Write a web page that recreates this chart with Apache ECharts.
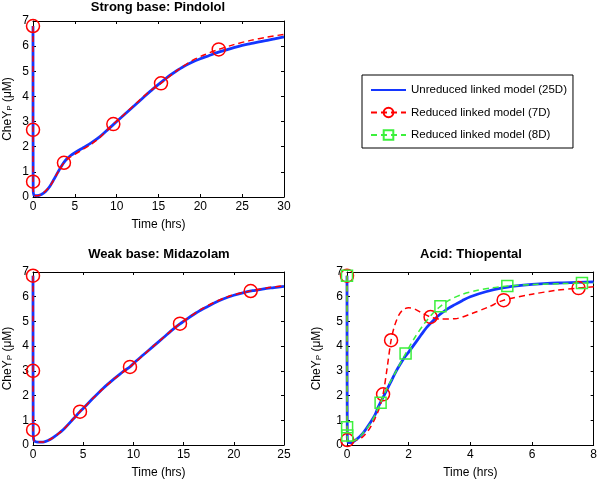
<!DOCTYPE html>
<html>
<head>
<meta charset="utf-8">
<script src="https://cdn.jsdelivr.net/npm/echarts@6/dist/echarts.min.js"></script>
<style>html,body{margin:0;padding:0;background:#fff}#c{width:600px;height:480px}</style>
</head>
<body>
<div id="c"></div>
<script>
// ---------- Data ----------
const titles = ['Strong base: Pindolol', 'Weak base: Midazolam', 'Acid: Thiopental'];
const seriesNames = ['Unreduced linked model (25D)', 'Reduced linked model (7D)', 'Reduced linked model (8D)'];
const xMax = [30, 25, 8];
const xInterval = [5, 5, 2];
const yTicks = [0, 1, 2, 3, 4, 5, 6, 7];

// Strong base: Pindolol
const pinTime25 = [0, 0.02, 0.1, 0.5, 1, 1.5, 2, 2.5, 3, 3.6, 4, 4.5, 5, 6, 7, 8, 9, 10, 11, 12, 13, 14, 15, 16, 17, 18, 19, 20, 21, 22, 23, 24, 25, 26, 27, 28, 29, 30];
const pinVal25  = [6.8, 0.3, 0.08, 0.05, 0.1, 0.22, 0.42, 0.7, 1.0, 1.33, 1.5, 1.65, 1.76, 1.96, 2.16, 2.4, 2.7, 3.0, 3.3, 3.6, 3.9, 4.2, 4.48, 4.75, 4.98, 5.19, 5.36, 5.5, 5.62, 5.74, 5.84, 5.94, 6.03, 6.1, 6.17, 6.23, 6.3, 6.37];
const pinTime7 = [0, 0.003, 0.01, 0.1, 0.5, 1, 2, 3, 3.7, 4.5, 5, 6, 7, 8, 9.6, 11, 12.5, 14, 15.3, 17, 19, 20.5, 22.2, 24, 26, 28, 30];
const pinVal7  = [6.8, 2.67, 0.61, 0.08, 0.05, 0.1, 0.42, 1.0, 1.36, 1.6, 1.7, 1.9, 2.11, 2.37, 2.9, 3.32, 3.78, 4.22, 4.52, 4.98, 5.42, 5.66, 5.87, 6.06, 6.23, 6.36, 6.47];
const pinMarks7 = [0, 1, 2, 8, 14, 18, 22];

// Weak base: Midazolam
const midTime25 = [0, 0.02, 0.1, 0.5, 1, 1.5, 2, 3, 4, 4.68, 5, 6, 7, 8, 9, 9.66, 10, 11, 12, 13, 14, 14.64, 15, 16, 17, 18, 19, 20, 21, 22, 23, 24, 25];
const midVal25  = [6.85, 0.5, 0.18, 0.12, 0.12, 0.18, 0.3, 0.62, 1.05, 1.35, 1.48, 1.9, 2.3, 2.65, 2.98, 3.16, 3.3, 3.65, 4.0, 4.35, 4.7, 4.9, 5.0, 5.28, 5.52, 5.74, 5.92, 6.06, 6.17, 6.25, 6.32, 6.37, 6.42];
const midTime7 = [0, 0.003, 0.01, 0.1, 0.5, 1, 2, 3, 4, 4.68, 6, 8, 9.66, 12, 14.64, 17, 19.5, 21.68, 23.5, 25];
const midVal7  = [6.85, 3.0, 0.61, 0.17, 0.12, 0.12, 0.3, 0.62, 1.05, 1.35, 1.9, 2.65, 3.16, 4.0, 4.91, 5.55, 6.02, 6.23, 6.37, 6.45];
const midMarks7 = [0, 1, 2, 9, 12, 14, 17];

// Acid: Thiopental
const thiTime25 = [0, 0.01, 0.05, 0.15, 0.3, 0.5, 0.7, 0.9, 1, 1.2, 1.4, 1.6, 1.8, 1.9, 2, 2.2, 2.4, 2.6, 2.8, 3, 3.25, 3.5, 3.75, 4, 4.5, 5, 5.5, 6, 6.5, 7, 7.5, 8];
const thiVal25  = [6.85, 0.3, 0.1, 0.1, 0.22, 0.45, 0.8, 1.2, 1.5, 2.0, 2.5, 3.0, 3.42, 3.6, 3.76, 4.1, 4.45, 4.78, 5.04, 5.27, 5.5, 5.68, 5.85, 6.0, 6.2, 6.35, 6.44, 6.5, 6.54, 6.56, 6.58, 6.6];
const thiTime7 = [0, 0.01, 0.05, 0.3, 0.5, 0.7, 0.9, 1.05, 1.17, 1.3, 1.43, 1.55, 1.7, 1.85, 2.0, 2.2, 2.45, 2.71, 3.0, 3.5, 4.05, 4.6, 5.08, 6, 6.8, 7.51, 8];
const thiVal7  = [6.85, 0.2, 0.12, 0.2, 0.32, 0.6, 1.05, 1.5, 2.05, 3.1, 4.24, 4.85, 5.3, 5.5, 5.55, 5.5, 5.33, 5.18, 5.1, 5.11, 5.32, 5.59, 5.86, 6.1, 6.26, 6.35, 6.4];
const thiMarks7 = [0, 1, 8, 10, 17, 22, 25];
const thiTime8 = [0, 0.003, 0.008, 0.05, 0.3, 0.5, 0.8, 1.09, 1.3, 1.6, 1.9, 2.2, 2.5, 2.8, 3.03, 3.3, 3.7, 4.2, 4.7, 5.2, 6, 7, 7.62, 8];
const thiVal8  = [6.85, 0.72, 0.38, 0.12, 0.22, 0.45, 0.95, 1.71, 2.3, 3.0, 3.7, 4.35, 4.9, 5.35, 5.61, 5.85, 6.08, 6.25, 6.36, 6.43, 6.49, 6.53, 6.55, 6.55];
const thiMarks8 = [0, 1, 2, 7, 10, 14, 19, 22];

// ---------- Styling ----------
const FONT = 'Liberation Sans, Arial, Helvetica, sans-serif';
const BLUE = '#1436ff', RED = '#ff0000', GREEN = '#3cf03c';
const CLEAR = 'rgba(255,255,255,0)';
const grids = [
  {left: 33, top: 21, width: 251, height: 176},
  {left: 33, top: 272, width: 251, height: 173},
  {left: 347, top: 272, width: 250, height: 173}
];
const titleCenters = [[158, 1], [159, 248], [471, 248]];
const yNameGaps = [19, 19, 24];

function pts(ts, vs, marks, sym) {
  return ts.map((t, i) => ({value: [t, vs[i]], symbol: (marks && marks.indexOf(i) >= 0) ? sym : 'none'}));
}

const xAxes = [], yAxes = [], title = [];
grids.forEach((g, i) => {
  title.push({
    text: titles[i], left: titleCenters[i][0], top: titleCenters[i][1], textAlign: 'center', padding: 0,
    textStyle: {fontFamily: FONT, fontSize: 13, fontWeight: 'bold', color: '#000'}
  });
  const common = {
    gridIndex: i, type: 'value', min: 0, splitLine: {show: false},
    axisLine: {show: true, onZero: false, lineStyle: {color: '#000', width: 1}},
    axisTick: {show: true, inside: true, length: 3, lineStyle: {color: '#000'}}
  };
  xAxes.push(Object.assign({}, common, {
    position: 'bottom', max: xMax[i], interval: xInterval[i],
    axisLabel: {fontFamily: FONT, fontSize: 12, color: '#000', margin: 4},
    name: 'Time (hrs)', nameLocation: 'middle', nameGap: 22,
    nameTextStyle: {fontFamily: FONT, fontSize: 12, color: '#000'}
  }));
  xAxes.push(Object.assign({}, common, {
    position: 'top', max: xMax[i], interval: xInterval[i], axisLabel: {show: false}
  }));
  yAxes.push(Object.assign({}, common, {
    position: 'left', max: yTicks[yTicks.length - 1], interval: yTicks[1] - yTicks[0],
    axisLabel: {fontFamily: FONT, fontSize: 12, color: '#000', margin: 4},
    name: 'CheY{sub|P} (μM)', nameLocation: 'middle', nameGap: yNameGaps[i],
    nameTextStyle: {fontFamily: FONT, fontSize: 12, color: '#000',
      rich: {sub: {fontFamily: FONT, fontSize: 8, color: '#000', verticalAlign: 'bottom', padding: [5, 0, 0, 0]}}}
  }));
  yAxes.push(Object.assign({}, common, {
    position: 'right', max: yTicks[yTicks.length - 1], interval: yTicks[1] - yTicks[0], axisLabel: {show: false}
  }));
});

function blueSeries(gi, ts, vs) {
  return {
    name: seriesNames[0], type: 'line', xAxisIndex: gi * 2, yAxisIndex: gi * 2,
    data: pts(ts, vs, null, 'none'), symbol: 'none', smooth: 0.3, clip: false, z: 2,
    lineStyle: {color: BLUE, width: 2.8}, itemStyle: {color: CLEAR, borderColor: CLEAR, borderWidth: 0}
  };
}
function redSeries(gi, ts, vs, marks) {
  return {
    name: seriesNames[1], type: 'line', xAxisIndex: gi * 2, yAxisIndex: gi * 2,
    data: pts(ts, vs, marks, 'circle'), symbol: 'circle', symbolSize: 13, smooth: 0.3, clip: false, z: 3,
    lineStyle: {color: RED, width: 1.5, type: [6, 4]},
    itemStyle: {color: CLEAR, borderColor: RED, borderWidth: 1.5}
  };
}
function greenSeries(gi, ts, vs, marks) {
  return {
    name: seriesNames[2], type: 'line', xAxisIndex: gi * 2, yAxisIndex: gi * 2,
    data: pts(ts, vs, marks, 'rect'), symbol: 'rect', symbolSize: 11, smooth: 0.3, clip: false, z: 4,
    lineStyle: {color: GREEN, width: 1.5, type: [6, 4]},
    itemStyle: {color: CLEAR, borderColor: GREEN, borderWidth: 1.5}
  };
}

const series = [
  blueSeries(0, pinTime25, pinVal25),
  redSeries(0, pinTime7, pinVal7, pinMarks7),
  blueSeries(1, midTime25, midVal25),
  redSeries(1, midTime7, midVal7, midMarks7),
  blueSeries(2, thiTime25, thiVal25),
  redSeries(2, thiTime7, thiVal7, thiMarks7),
  greenSeries(2, thiTime8, thiVal8, thiMarks8)
];

const chart = echarts.init(document.getElementById('c'), null, {renderer: 'canvas'});
chart.setOption({
  animation: false,
  backgroundColor: '#fff',
  title: title,
  grid: grids,
  xAxis: xAxes,
  yAxis: yAxes,
  legend: {
    data: [
      {name: seriesNames[0], itemStyle: {opacity: 0}},
      {name: seriesNames[1]},
      {name: seriesNames[2]}
    ],
    orient: 'vertical', left: 362, top: 75,
    itemWidth: 35, itemHeight: 12, itemGap: 10.5,
    padding: [9, 6, 7, 8],
    backgroundColor: '#fff', borderColor: '#000', borderWidth: 1, borderRadius: 0,
    textStyle: {fontFamily: FONT, fontSize: 11.5, color: '#000'},
    selectedMode: false
  },
  series: series
});
</script>
</body>
</html>
